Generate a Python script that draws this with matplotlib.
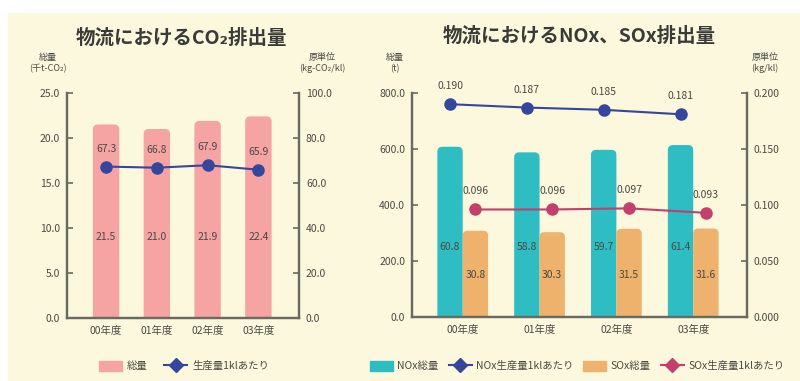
import numpy as np
import matplotlib
matplotlib.use("Agg")
import matplotlib.pyplot as plt
from matplotlib.patches import Rectangle, Patch, FancyBboxPatch
from matplotlib.lines import Line2D

plt.rcParams["font.family"] = ["Noto Sans CJK JP", "DejaVu Sans"]

# =====================================================
# DATA
# =====================================================

years = ["00年度", "01年度", "02年度", "03年度"]

co2_total = [21.5, 21.0, 21.9, 22.4]          # 千t-CO2
co2_unit = [67.3, 66.8, 67.9, 65.9]           # kg-CO2/kl

nox_total = [608, 588, 597, 614]              # t
sox_total = [308, 303, 315, 316]              # t
nox_total_labels = ["60.8", "58.8", "59.7", "61.4"]
sox_total_labels = ["30.8", "30.3", "31.5", "31.6"]
nox_unit = [0.190, 0.187, 0.185, 0.181]       # kg/kl
sox_unit = [0.096, 0.096, 0.097, 0.093]       # kg/kl

# =====================================================
# STYLE
# =====================================================

BG = "#fbf8dd"
PINK = "#f5a3a3"
TEAL = "#2dbdc2"
ORANGE = "#efb26c"
BLUE = "#34479c"
ROSE = "#c23f6e"
AXIS = "#6a6a62"
TXT = "#4a4a44"

fig = plt.figure(figsize=(8, 3.81), dpi=100)
fig.patch.set_facecolor("white")
fig.add_artist(Rectangle((8 / 800, 0), 1, 1 - 13 / 381,
                         transform=fig.transFigure, color=BG, zorder=-10))


def style_axes(ax, ax2):
    ax.set_facecolor("none")
    for a in (ax, ax2):
        a.spines["top"].set_visible(False)
        for s in ("left", "right", "bottom"):
            a.spines[s].set_color(AXIS)
            a.spines[s].set_linewidth(1.6)
        a.tick_params(axis="y", direction="in", length=4, width=1.2,
                      color=AXIS, labelsize=7.5, labelcolor=TXT, pad=5)
    ax.tick_params(axis="x", length=0, labelsize=7.5, labelcolor=TXT, pad=6)


def round_tops(ax, bars, r_px=5):
    # swap plain bars for ones with rounded top corners
    p0 = ax.transData.transform((0, 0))
    p1 = ax.transData.transform((1, 1))
    rx = r_px / (p1[0] - p0[0])
    ry = r_px / (p1[1] - p0[1])
    for b in bars:
        bx, by = b.get_x(), b.get_y()
        bw, bh = b.get_width(), b.get_height()
        col = b.get_facecolor()
        b.remove()
        ax.add_patch(FancyBboxPatch(
            (bx, by - 2 * ry), bw, bh + 2 * ry,
            boxstyle=f"round,pad=0,rounding_size={rx}",
            mutation_aspect=ry / rx, facecolor=col, edgecolor="none",
            zorder=2))


# =====================================================
# LEFT : CO2
# =====================================================

ax1 = fig.add_axes([67 / 800, 1 - 318 / 381, 232 / 800, 225 / 381])
ax1b = ax1.twinx()
x = np.arange(len(years))

ax1.set_xlim(-0.77, 3.8)
ax1.set_ylim(0, 25)
ax1b.set_ylim(0, 100)

bars = ax1.bar(x, co2_total, width=0.52, color=PINK, zorder=2)
round_tops(ax1, bars)
for xi, v in zip(x, co2_total):
    ax1.text(xi, 9.0, f"{v:.1f}", ha="center", va="center",
             fontsize=7.5, color=TXT, zorder=3)

ax1b.plot(x, co2_unit, color=BLUE, lw=1.5, marker="o", ms=8, zorder=4)
for xi, v in zip(x, co2_unit):
    ax1b.annotate(f"{v:.1f}", (xi, v), xytext=(0, 13),
                  textcoords="offset points", ha="center", va="center",
                  fontsize=7.5, color=TXT)

ax1.set_yticks(np.arange(0, 25.1, 5))
ax1b.set_yticks(np.arange(0, 100.1, 20))
ax1.set_yticklabels([f"{t:.1f}" for t in np.arange(0, 25.1, 5)])
ax1b.set_yticklabels([f"{t:.1f}" for t in np.arange(0, 100.1, 20)])
ax1.set_xticks(x)
ax1.set_xticklabels(years)
style_axes(ax1, ax1b)

fig.text(181 / 800, 1 - 38 / 381, "物流におけるCO₂排出量", ha="center",
         va="center", fontsize=14, fontweight="bold", color="#3a3a36")
fig.text(48 / 800, 1 - 63 / 381, "総量\n(千t-CO₂)", ha="center", va="center",
         fontsize=6.5, color=TXT, linespacing=1.3)
fig.text(322 / 800, 1 - 63 / 381, "原単位\n(kg-CO₂/kl)", ha="center",
         va="center", fontsize=6.5, color=TXT, linespacing=1.3)

fig.legend(handles=[Patch(color=PINK, label="総量"),
                    Line2D([], [], color=BLUE, lw=1.5, marker="D", ms=7,
                           label="生産量1klあたり")],
           loc="center", bbox_to_anchor=(184 / 800, 1 - 366 / 381), ncol=2,
           frameon=False, fontsize=7.5, handlelength=2.2, handleheight=1.1,
           columnspacing=1.6, handletextpad=0.5, labelcolor=TXT)

# =====================================================
# RIGHT : NOx, SOx
# =====================================================

ax2 = fig.add_axes([412 / 800, 1 - 317 / 381, 335 / 800, 224 / 381])
ax2b = ax2.twinx()
w = 0.33

ax2.set_xlim(-0.66, 3.70)
ax2.set_ylim(0, 800)
ax2b.set_ylim(0, 0.2)

nb = ax2.bar(x - w / 2, nox_total, width=w, color=TEAL, zorder=2)
sb = ax2.bar(x + w / 2, sox_total, width=w, color=ORANGE, zorder=2)
round_tops(ax2, nb)
round_tops(ax2, sb)
for xi, lab in zip(x, nox_total_labels):
    ax2.text(xi - w / 2, 250, lab, ha="center", va="center",
             fontsize=7.5, color=TXT, zorder=3)
for xi, lab in zip(x, sox_total_labels):
    ax2.text(xi + w / 2, 150, lab, ha="center", va="center",
             fontsize=7.5, color=TXT, zorder=3)

ax2b.plot(x - w / 2, nox_unit, color=BLUE, lw=1.5, marker="o", ms=8, zorder=4)
ax2b.plot(x + w / 2, sox_unit, color=ROSE, lw=1.5, marker="o", ms=8, zorder=4)
for xs, vals in ((x - w / 2, nox_unit), (x + w / 2, sox_unit)):
    for xi, v in zip(xs, vals):
        ax2b.annotate(f"{v:.3f}", (xi, v), xytext=(0, 13),
                      textcoords="offset points", ha="center", va="center",
                      fontsize=7.5, color=TXT)

ax2.set_yticks(np.arange(0, 801, 200))
ax2b.set_yticks(np.arange(0, 0.2001, 0.05))
ax2.set_yticklabels([f"{t:.1f}" for t in np.arange(0, 801, 200)])
ax2b.set_yticklabels([f"{t:.3f}" for t in np.arange(0, 0.2001, 0.05)])
ax2.set_xticks(x)
ax2.set_xticklabels(years)
style_axes(ax2, ax2b)

fig.text(579 / 800, 1 - 36 / 381, "物流におけるNOx、SOx排出量", ha="center",
         va="center", fontsize=14, fontweight="bold", color="#3a3a36")
fig.text(395 / 800, 1 - 63 / 381, "総量\n(t)", ha="center", va="center",
         fontsize=6.5, color=TXT, linespacing=1.3)
fig.text(765 / 800, 1 - 63 / 381, "原単位\n(kg/kl)", ha="center",
         va="center", fontsize=6.5, color=TXT, linespacing=1.3)

fig.legend(handles=[Patch(color=TEAL, label="NOx総量"),
                    Line2D([], [], color=BLUE, lw=1.5, marker="D", ms=7,
                           label="NOx生産量1klあたり"),
                    Patch(color=ORANGE, label="SOx総量"),
                    Line2D([], [], color=ROSE, lw=1.5, marker="D", ms=7,
                           label="SOx生産量1klあたり")],
           loc="center", bbox_to_anchor=(577 / 800, 1 - 366 / 381), ncol=4,
           frameon=False, fontsize=7.5, handlelength=2.2, handleheight=1.1,
           columnspacing=1.0, handletextpad=0.4, labelcolor=TXT)

fig.savefig("out.png", dpi=100)
